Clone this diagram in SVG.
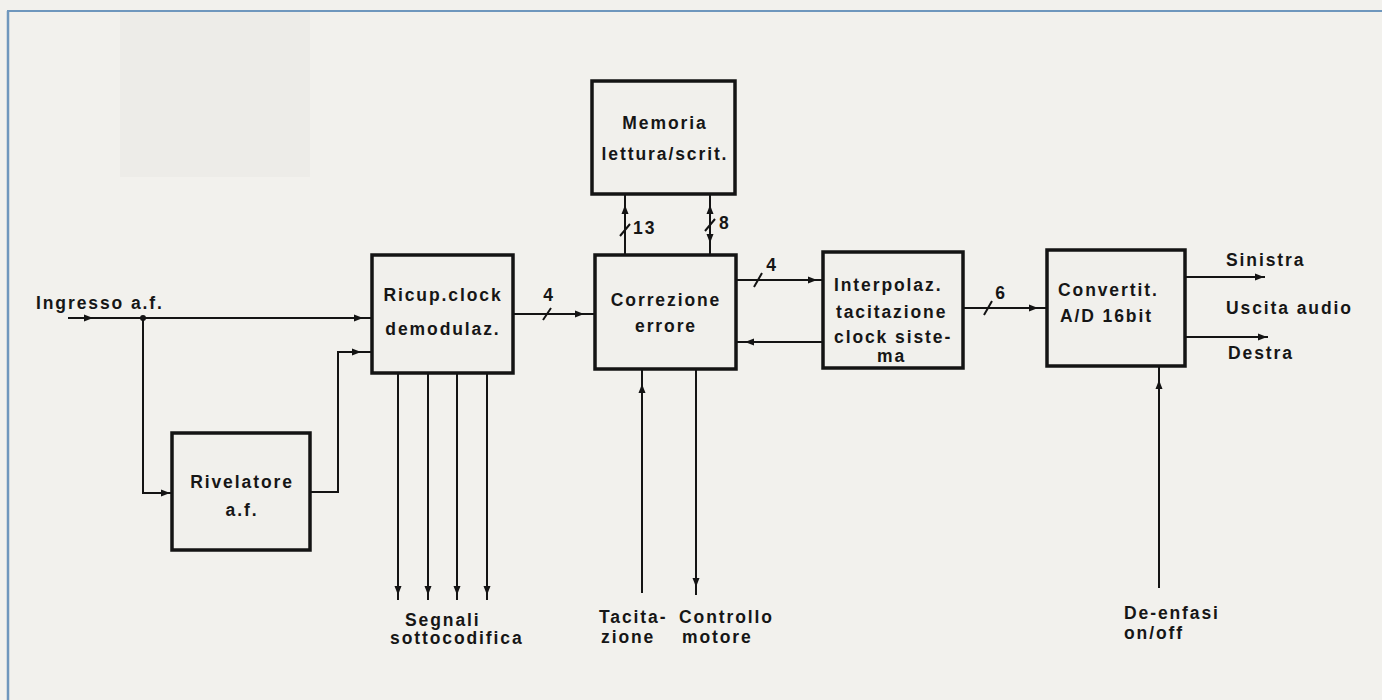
<svg xmlns="http://www.w3.org/2000/svg" xmlns:xlink="http://www.w3.org/1999/xlink" width="1382" height="700" viewBox="0 0 1382 700">
<style>
.box{fill:#f1f0ec;stroke:#141414;stroke-width:3.5}
.ln{fill:none;stroke:#141414;stroke-width:2}
.t{font-family:"Liberation Sans",Arial,sans-serif;font-weight:bold;font-size:17.5px;letter-spacing:1.9px;fill:#161616}
.m{text-anchor:middle}
.frame{stroke:#6f97bd;fill:none}
</style>
<defs>
<path id="ar" d="M0,0 L-9,-3.5 L-9,3.5 Z" fill="#141414"/>
</defs>
<rect x="0" y="0" width="1382" height="700" fill="#f2f1ed"/>
<rect x="120" y="12" width="190" height="165" fill="#edece8"/>
<line class="frame" x1="7" y1="11" x2="1382" y2="11" stroke-width="2"/>
<line class="frame" x1="8" y1="11" x2="8" y2="700" stroke-width="2.5"/>

<g id="connectors">
<path class="ln" d="M68,318 H372"/>
<circle cx="143" cy="318" r="3" fill="#141414"/>
<path class="ln" d="M143,318 V493 H172"/>
<path class="ln" d="M310,492 H338 V352 H372"/>
<path class="ln" d="M513,314 H595"/>
<path class="ln" d="M625,194 V255"/>
<path class="ln" d="M710,194 V255"/>
<path class="ln" d="M736,280 H823"/>
<path class="ln" d="M823,342 H736"/>
<path class="ln" d="M963,308 H1047"/>
<path class="ln" d="M1185,277 H1265"/>
<path class="ln" d="M1185,337 H1268"/>
<path class="ln" d="M1159,588 V366"/>
<path class="ln" d="M398,373 V600 M428,373 V600 M457,373 V600 M487,373 V600"/>
<path class="ln" d="M642,369 V593"/>
<path class="ln" d="M696,369 V595"/>
<path class="ln" d="M543,320 L551,308 M754,287 L762,273 M984,315 L992,301 M620,236 L630,224 M705,231 L715,219"/>
<use xlink:href="#ar" transform="translate(93,318)"/>
<use xlink:href="#ar" transform="translate(363,318)"/>
<use xlink:href="#ar" transform="translate(170,493)"/>
<use xlink:href="#ar" transform="translate(361,352)"/>
<use xlink:href="#ar" transform="translate(584,314)"/>
<use xlink:href="#ar" transform="translate(817,280)"/>
<use xlink:href="#ar" transform="translate(745,342) rotate(180)"/>
<use xlink:href="#ar" transform="translate(1038,308)"/>
<use xlink:href="#ar" transform="translate(1264,277)"/>
<use xlink:href="#ar" transform="translate(1267,337)"/>
<use xlink:href="#ar" transform="translate(625,205) rotate(-90)"/>
<use xlink:href="#ar" transform="translate(710,205) rotate(-90)"/>
<use xlink:href="#ar" transform="translate(710,243) rotate(90)"/>
<use xlink:href="#ar" transform="translate(398,595) rotate(90)"/>
<use xlink:href="#ar" transform="translate(428,595) rotate(90)"/>
<use xlink:href="#ar" transform="translate(457,595) rotate(90)"/>
<use xlink:href="#ar" transform="translate(487,595) rotate(90)"/>
<use xlink:href="#ar" transform="translate(642,384) rotate(-90)"/>
<use xlink:href="#ar" transform="translate(696,587) rotate(90)"/>
<use xlink:href="#ar" transform="translate(1159,380) rotate(-90)"/>
<text class="t m" x="549" y="301">4</text>
<text class="t m" x="772" y="271">4</text>
<text class="t m" x="1001" y="299">6</text>
<text class="t" x="633" y="234">13</text>
<text class="t" x="719" y="229">8</text>
</g>

<g id="labels">
<text class="t" x="36" y="309">Ingresso a.f.</text>
<text class="t" x="405" y="626">Segnali</text>
<text class="t" x="390" y="644">sottocodifica</text>
<text class="t" x="599" y="623">Tacita-</text>
<text class="t" x="601" y="643">zione</text>
<text class="t" x="679" y="623">Controllo</text>
<text class="t" x="682" y="643">motore</text>
<text class="t" x="1226" y="266">Sinistra</text>
<text class="t" x="1226" y="314">Uscita audio</text>
<text class="t" x="1228" y="359">Destra</text>
<text class="t" x="1124" y="619">De-enfasi</text>
<text class="t" x="1124" y="639">on/off</text>
</g>

<g id="memoria">
<rect class="box" x="592" y="81" width="143" height="113"/>
<text class="t m" x="665" y="129">Memoria</text>
<text class="t m" x="665" y="160">lettura/scrit.</text>
</g>

<g id="ricup">
<rect class="box" x="372" y="255" width="141" height="118"/>
<text class="t m" x="443" y="301">Ricup.clock</text>
<text class="t m" x="443" y="335">demodulaz.</text>
</g>

<g id="correzione">
<rect class="box" x="595" y="255" width="141" height="114"/>
<text class="t m" x="666" y="306">Correzione</text>
<text class="t m" x="666" y="332">errore</text>
</g>

<g id="interpolaz">
<rect class="box" x="823" y="252" width="140" height="116"/>
<text class="t" x="834" y="291">Interpolaz.</text>
<text class="t" x="836" y="318">tacitazione</text>
<text class="t" x="834" y="343">clock siste-</text>
<text class="t" x="877" y="362">ma</text>
</g>

<g id="convertit">
<rect class="box" x="1047" y="250" width="138" height="116"/>
<text class="t" x="1058" y="296">Convertit.</text>
<text class="t" x="1060" y="322">A/D 16bit</text>
</g>

<g id="rivelatore">
<rect class="box" x="172" y="433" width="138" height="117"/>
<text class="t m" x="242" y="488">Rivelatore</text>
<text class="t m" x="242" y="516">a.f.</text>
</g>
</svg>
